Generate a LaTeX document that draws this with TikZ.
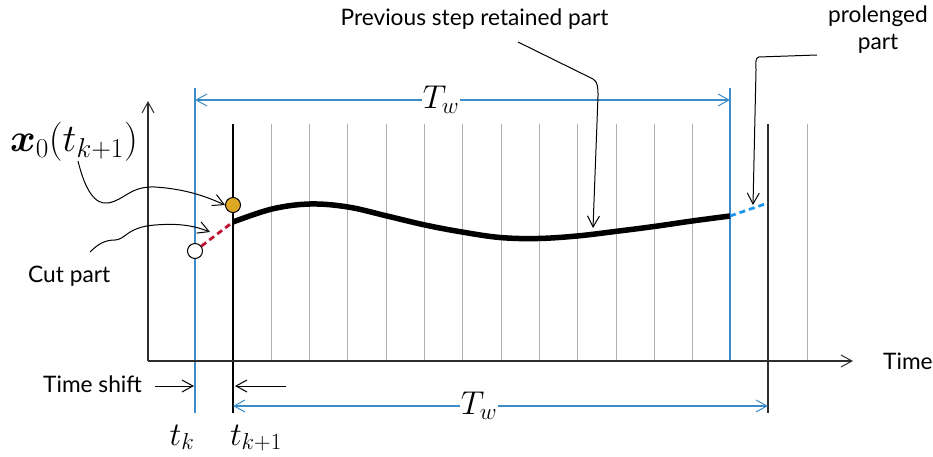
\RequirePackage{fix-cm}
\documentclass[tikz,border=0pt]{standalone}
\usepackage{amsmath}
\usepackage[no-math]{fontspec}
\newfontfamily\lato{Lato}
\usetikzlibrary{arrows.meta}
\definecolor{lineblue}{RGB}{60,140,200}
\definecolor{gridgray}{RGB}{175,175,175}
\definecolor{axisgray}{RGB}{45,45,45}
\definecolor{goldfill}{RGB}{222,168,36}
\definecolor{cutred}{RGB}{190,20,50}
\definecolor{prolblue}{RGB}{30,150,240}
\tikzset{
  barb/.style={-{Straight Barb[length=11pt,width=12pt,line width=1pt]}},
  axisline/.style={axisgray,line width=1.5pt,barb},
  gridline/.style={gridgray,line width=1pt},
  blueline/.style={lineblue,line width=1.2pt},
  dimarrow/.style={lineblue,line width=1.2pt,{Straight Barb[length=11pt,width=12pt,line width=1pt]}-{Straight Barb[length=11pt,width=12pt,line width=1pt]}},
  annot/.style={black,line width=1pt,barb},
  txt/.style={font=\lato\fontsize{22.7}{27}\selectfont,inner sep=0pt,text=black},
  mathlbl/.style={font=\fontsize{33}{36}\selectfont,inner sep=1pt,text=black},
  biglbl/.style={font=\fontsize{39}{42}\selectfont,inner sep=1pt,text=black},
  dot/.style={circle,draw=black,line width=1pt,minimum size=15pt,inner sep=0pt},
}
\begin{document}
\begin{tikzpicture}[x=1pt,y=-1pt]
\useasboundingbox (0,0) rectangle (933,457);
% grid lines
\foreach \k in {1,...,12,15}
  \draw[gridline] (233+38.3*\k,124) -- (233+38.3*\k,361);
% blue window lines
\draw[blueline] (195,88) -- (195,413);
\draw[blueline] (730,88) -- (730,361);
% black lines
\draw[black,line width=1.2pt] (233,124) -- (233,413);
\draw[axisgray,line width=2.2pt] (768,124) -- (768,413);
% axes
\coordinate (origin) at (148,361);
\coordinate (xend) at (853,361);
\coordinate (yend) at (148,101);
\draw[axisline] (origin) -- (xend);
\draw[axisline] (origin) -- (yend);
\node[txt,anchor=base west] (time) at (883,369) {Time};
% T_w dimensions
\coordinate (twa) at (195,100);
\coordinate (twb) at (730,100);
\draw[dimarrow] (twa) -- node[pos=0.46,fill=white,mathlbl] (tw1) {$T_w$} (twb);
\coordinate (twc) at (233,406);
\coordinate (twd) at (768,406);
\draw[dimarrow] (twc) -- node[pos=0.46,fill=white,mathlbl] (tw2) {$T_w$} (twd);
% time shift
\node[txt,anchor=base west] (shift) at (43,392) {Time shift};
\coordinate (sa) at (155,386);
\coordinate (sb) at (194,386);
\coordinate (sc) at (286,386);
\coordinate (sd) at (235,386);
\draw[annot] (sa) -- (sb);
\draw[annot] (sc) -- (sd);
\node[mathlbl,anchor=base] (tk) at (182,445) {$t_k$};
\node[mathlbl,anchor=base] (tk1) at (256,445) {$t_{k+1}$};
% trajectory
\node[dot,fill=white] (c0) at (195,251) {};
\node[dot,fill=goldfill] (c1) at (233,205) {};
\coordinate (p0) at (233,222);
\coordinate (p1) at (730,216);
\coordinate (p2) at (768,203);
\draw[cutred,line width=2.8pt,dash pattern=on 6pt off 4pt] (c0) -- (p0);
\draw[prolblue,line width=2.8pt,dash pattern=on 6pt off 4pt] (p1) -- (p2);
\draw[black,line width=5.5pt] plot[smooth,tension=0.6] coordinates {(233,222) (272,209) (310,204) (348,207) (387,216) (425,225) (462,232) (500,237.5) (538,238.5) (577,236) (615,231.5) (654,226.5) (692,221) (730,216)};
% labels and annotation arrows
\node[biglbl,anchor=base] (x0) at (74,152) {$\boldsymbol{x}_0(t_{k+1})$};
\draw[annot] (78,161) .. controls (85,190) and (95,205) .. (108,203) .. controls (125,200) and (130,186) .. (155,187) .. controls (185,189) and (205,196) .. (c1.west);
\node[txt,anchor=base west] (cut) at (28,282) {Cut part};
\draw[annot] (90,252) .. controls (98,244) and (105,240) .. (115,240) .. controls (125,240) and (127,227) .. (155,225) .. controls (180,223) and (195,226) .. (210,232);
\node[txt,anchor=base] (ret) at (474.5,26) {Previous step retained part};
\draw[annot] (518,42) -- (593,79) .. controls (598,82) and (598,88) .. (598,96) -- (593,228);
\node[txt,anchor=base,align=center] (prol) at (878,50) {prolenged\\part};
\draw[annot] (817,55) -- (759,57) .. controls (755,58) and (756,62) .. (756,70) -- (753,205);
\end{tikzpicture}
\end{document}
